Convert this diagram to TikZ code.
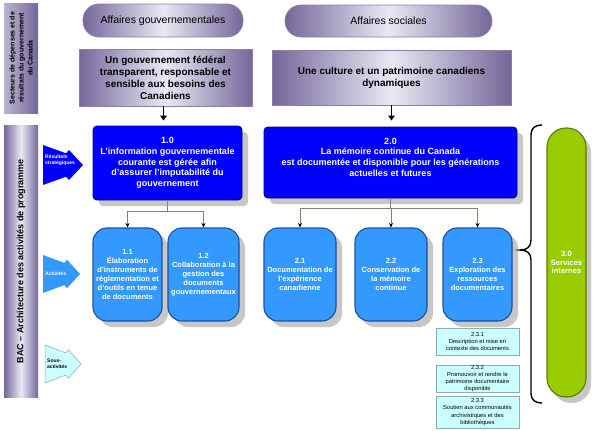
\documentclass[tikz,border=0pt]{standalone}
\usepackage{fontspec}
\setmainfont{Liberation Sans}
\usetikzlibrary{shadows,arrows.meta}
\definecolor{purpD}{HTML}{75679A}
\definecolor{purpL}{HTML}{E8E9F4}
\definecolor{purpB}{HTML}{8C80A8}
\definecolor{navy}{HTML}{00007F}
\definecolor{actF}{HTML}{3399FF}
\definecolor{actB}{HTML}{1F4F9F}
\definecolor{grF}{HTML}{99CC00}
\definecolor{grB}{HTML}{5C7A00}
\definecolor{subF}{HTML}{CCFFFF}
\definecolor{subB}{HTML}{8AAFAF}
\definecolor{connc}{HTML}{808080}
\tikzset{
  shad/.style={drop shadow={shadow xshift=6pt, shadow yshift=-6pt, fill=black!22, opacity=1}},
  pill/.style={draw=purpB, line width=0.8pt, rounded corners=16pt, left color=purpD, right color=purpD, middle color=purpL, inner sep=0pt, align=center, font=\fontsize{10.5}{12}\selectfont},
  outcome/.style={draw=purpB, line width=0.8pt, left color=purpD, right color=purpD, middle color=purpL, inner sep=0pt, align=center, font=\bfseries\fontsize{10}{12}\selectfont},
  sidebar/.style={draw=none, rotate=90, inner sep=0pt, align=center},
  stratbox/.style={draw=navy, line width=0.9pt, fill=blue, rounded corners=4pt, text=white, inner sep=0pt, align=center, font=\bfseries\fontsize{9}{10.8}\selectfont, shad},
  actbox/.style={draw=actB, line width=1.1pt, fill=actF, rounded corners=14pt, text=white, inner sep=0pt, align=center, minimum height=93pt, font=\bfseries\fontsize{7.5}{9}\selectfont, shad},
  subbox/.style={draw=subB, line width=0.6pt, fill=subF, inner sep=0pt, align=center, minimum width=83pt, font=\fontsize{5.8}{7.2}\selectfont},
  greenpill/.style={draw=grB, line width=1.1pt, fill=grF, rounded corners=19pt, text=white, inner sep=0pt, align=center, font=\bfseries\fontsize{7.6}{8.8}\selectfont, drop shadow={shadow xshift=5pt, shadow yshift=-6pt, fill=black!22, opacity=1}},
  conn/.style={draw=connc, line width=0.7pt, -{Stealth[length=4.5pt,width=4pt,black]}},
  bigarr/.style={line width=1.7pt, -{Triangle[length=5pt,width=6.5pt]}},
  arrlab/.style={inner sep=0pt, align=left, font=\bfseries\fontsize{5}{5.8}\selectfont}
}
\begin{document}
\begin{tikzpicture}[x=1pt,y=-1pt]
\fill[white] (0,0) rectangle (595,431);
\useasboundingbox (0,0) rectangle (595,431);

% left bars
\node[sidebar, minimum width=110pt, minimum height=34pt, left color=purpL!60!purpD, right color=purpD, font=\bfseries\fontsize{7}{9}\selectfont] (secteurs) at (21,58) {Secteurs de dépenses et de\\résultats du gouvernement\\du Canada};
\node[sidebar, minimum width=272pt, minimum height=34pt, left color=purpD, right color=purpD, middle color=purpL, font=\bfseries\fontsize{9}{11}\selectfont] (bac) at (21,261) {BAC -- Architecture des activités de programme};

% notched arrows
\fill[blue, shift={(43,145)}] (0,0) -- (23,8.3) -- (26,5) -- (40,20) -- (26,35) -- (23,31.7) -- (0,40) -- cycle;
\node[arrlab, text=white, anchor=west] (lres) at (45,160) {Résultats\\stratégiques};
\fill[actF, shift={(43,255)}] (0,0) -- (21.3,7.9) -- (24,4.75) -- (37,19) -- (24,33.25) -- (21.3,30.1) -- (0,38) -- cycle;
\node[arrlab, text=white, anchor=west] (lact) at (45,274) {Activités};
\filldraw[fill=subF, draw=subB, line width=0.5pt, shift={(45,345)}] (0,0) -- (20.7,7.9) -- (23.4,4.75) -- (36,19) -- (23.4,33.25) -- (20.7,30.1) -- (0,38) -- cycle;
\node[arrlab, text=black, anchor=west] (lsous) at (47,364) {Sous-\\activités};

% top pills
\node[pill, minimum width=160pt, minimum height=33pt] (gouv) at (163,20.5) {Affaires gouvernementales};
\node[pill, minimum width=207pt, minimum height=32pt] (soc) at (388.5,21) {Affaires sociales};

% outcome rectangles
\node[outcome, minimum width=173pt, minimum height=57pt] (res1) at (165.5,77.5) {Un gouvernement fédéral\\transparent, responsable et\\sensible aux besoins des\\Canadiens};
\node[outcome, minimum width=239pt, minimum height=55pt] (res2) at (391.5,77.5) {Une culture et un patrimoine canadiens\\dynamiques};

% strategic outcomes
\node[stratbox, minimum width=149pt, minimum height=74pt] (s10) at (167.5,163) {1.0\\L'information gouvernementale\\courante est gérée afin\\d'assurer l'imputabilité du\\gouvernement};
\node[stratbox, minimum width=253pt, minimum height=71pt] (s20) at (390.5,162.5) {2.0\\La mémoire continue du Canada\\est documentée et disponible pour les générations\\actuelles et futures\\\mbox{}};

\draw[bigarr, shorten >=5pt] ([xshift=-2pt]res1.south) -- ([xshift=-2pt]res1.south |- s10.north);
\draw[bigarr, shorten >=6pt] (res2.south) -- (res2.south |- s20.north);

% activities
\node[actbox, minimum width=69pt] (a11) at (127.5,274.5) {1.1\\Élaboration\\d'instruments de\\réglementation et\\d'outils en tenue\\de documents};
\node[actbox, minimum width=71pt] (a12) at (203.5,274.5) {1.2\\Collaboration à la\\gestion des\\documents\\gouvernementaux};
\node[actbox, minimum width=72pt] (a21) at (300,274.5) {2.1\\Documentation de\\l'expérience\\canadienne};
\node[actbox, minimum width=72pt] (a22) at (391,274.5) {2.2\\Conservation de\\la mémoire\\continue};
\node[actbox, minimum width=69pt] (a23) at (477.5,274.5) {2.3\\Exploration des\\ressources\\documentaires};

\draw[conn] (s10.south) -- ++(0,11) -| (a11.north);
\draw[conn] (s10.south) -- ++(0,11) -| (a12.north);
\draw[conn] (s20.south) -- ++(0,10) -| (a21.north);
\draw[conn] (s20.south) -- ++(0,10) -| (a22.north);
\draw[conn] (s20.south) -- ++(0,10) -| (a23.north);

% sub-activities
\node[subbox, minimum height=27pt] (b231) at (477.5,341.5) {2.3.1\\Description et mise en\\contexte des documents};
\node[subbox, minimum height=27pt] (b232) at (477.5,378.5) {2.3.2\\Promouvoir et rendre le\\patrimoine documentaire\\disponible};
\node[subbox, minimum height=32pt] (b233) at (477.5,412) {2.3.3\\Soutien aux communautés\\archivistiques et des\\bibliothèques};

% internal services
\node[greenpill, minimum width=39pt, minimum height=269pt] (s30) at (566.5,262.5) {3.0\\Services\\internes};

% brace
\draw[line width=1.4pt] (542,125) .. controls (535,125) and (531,128) .. (531,135)
  -- (531,240) .. controls (531,247) and (527,250) .. (520,250)
  .. controls (527,250) and (531,253) .. (531,260)
  -- (531,393) .. controls (531,400) and (535,403) .. (542,403);
\end{tikzpicture}
\end{document}
